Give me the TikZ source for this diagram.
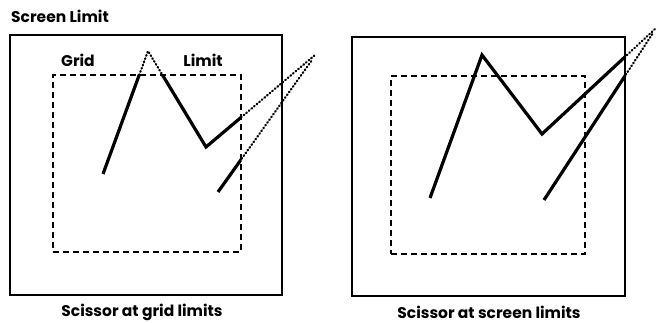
\documentclass[tikz,border=0pt]{standalone}
\usepackage{fontspec}
\setmainfont{Poppins}
\usetikzlibrary{positioning}

\begin{document}
\begin{tikzpicture}[
  x=1pt, y=-1pt,
  screen/.style={draw, line width=2.4pt, inner sep=0pt},
  gridbox/.style={draw, line width=1.4pt, dash pattern=on 6pt off 4pt, inner sep=0pt},
  trace/.style={line width=3.2pt, line join=miter},
  cut/.style={line width=2.2pt, dash pattern=on 0.8pt off 2.6pt, line cap=round},
  lbl/.style={font=\fontsize{15.5}{18}\selectfont\bfseries, inner sep=0pt}
]
\useasboundingbox (0,0) rectangle (661,323);

\node[screen, minimum width=272pt, minimum height=260pt] (scrA) at (146,165) {};
\node[gridbox, minimum width=188pt, minimum height=177pt] (gridA) at (147,163.5) {};
\node[screen, minimum width=273pt, minimum height=259pt] (scrB) at (488.5,166.5) {};
\node[gridbox, minimum width=194pt, minimum height=178pt] (gridB) at (488,165) {};

\node[lbl, anchor=west] (scrlbl) at (11,16) {Screen Limit};
\node[lbl] (gridlbl) at (78,60) {Grid};
\node[lbl] (limlbl) at (203,60) {Limit};
\node[lbl] (capA) at (142,312) {Scissor at grid limits};
\node[lbl] (capB) at (489,312) {Scissor at screen limits};

\coordinate (a1) at (103,174);
\coordinate (a2) at (148,51);
\coordinate (a3) at (206,147);
\coordinate (a4) at (315,55);
\coordinate (b1) at (218,192);
\coordinate (b2) at (312,60);
\coordinate (c1) at (430,198);
\coordinate (c2) at (482,55);
\coordinate (c3) at (542,134);
\coordinate (c4) at (655,29);
\coordinate (d1) at (544,200);
\coordinate (d2) at (653,33);

\begin{scope}[even odd rule]
  \clip (-10,-10) rectangle (671,333) (gridA.north west) rectangle (gridA.south east);
  \draw[cut] (a1) -- (a2) -- (a3) -- (a4);
  \draw[cut] (b1) -- (b2);
\end{scope}
\begin{scope}
  \clip (gridA.north west) rectangle (gridA.south east);
  \draw[trace] (a1) -- (a2) -- (a3) -- (a4);
  \draw[trace] (b1) -- (b2);
\end{scope}

\begin{scope}[even odd rule]
  \clip (-10,-10) rectangle (671,333) (scrB.north west) rectangle (scrB.south east);
  \draw[cut] (c1) -- (c2) -- (c3) -- (c4);
  \draw[cut] (d1) -- (d2);
\end{scope}
\begin{scope}
  \clip (scrB.north west) rectangle (scrB.south east);
  \draw[trace] (c1) -- (c2) -- (c3) -- (c4);
  \draw[trace] (d1) -- (d2);
\end{scope}
\end{tikzpicture}
\end{document}
